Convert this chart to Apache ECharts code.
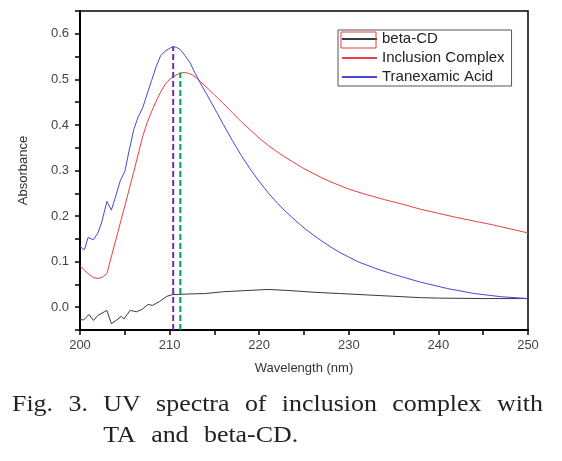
<!DOCTYPE html>
<html>
<head>
<meta charset="utf-8">
<script src="https://cdn.jsdelivr.net/npm/echarts@6/dist/echarts.min.js"></script>
<style>
html,body{margin:0;padding:0;background:#fff;}
#c{width:562px;height:461px;}
</style>
</head>
<body>
<div id="c"></div>
<script>
// beta-CD
var cdX = [200, 200.4, 201.0, 201.5, 202.0, 203.0, 203.5, 204.1, 204.6, 204.9, 205.6, 206.3, 206.9, 207.6, 208.1, 208.9, 209.7, 210.4, 211, 212, 214, 216, 218, 220, 221, 223, 226, 229, 232, 235, 238, 240, 245, 250];
var cdY = [-0.027, -0.028, -0.016, -0.029, -0.018, -0.007, -0.036, -0.028, -0.020, -0.026, -0.007, -0.010, -0.005, 0.006, 0.004, 0.013, 0.024, 0.028, 0.028, 0.029, 0.030, 0.034, 0.036, 0.038, 0.039, 0.037, 0.033, 0.030, 0.027, 0.024, 0.021, 0.020, 0.019, 0.019];
// Inclusion Complex
var icX = [200, 200.5, 201, 201.5, 202, 202.5, 203, 204, 205, 206, 207, 207.5, 208, 208.5, 209, 209.5, 210, 210.5, 211, 211.5, 212, 212.5, 213, 214, 215, 216, 217, 218, 219, 220, 221, 222, 223, 224, 225, 226, 227, 228, 229, 230, 232, 234, 236, 238, 240, 242, 244, 246, 248, 250];
var icY = [0.091, 0.081, 0.072, 0.065, 0.063, 0.066, 0.074, 0.148, 0.222, 0.297, 0.375, 0.405, 0.430, 0.452, 0.472, 0.489, 0.500, 0.507, 0.512, 0.515, 0.514, 0.510, 0.503, 0.485, 0.466, 0.447, 0.427, 0.407, 0.389, 0.371, 0.355, 0.341, 0.328, 0.316, 0.304, 0.294, 0.284, 0.275, 0.267, 0.259, 0.247, 0.236, 0.226, 0.215, 0.206, 0.197, 0.189, 0.181, 0.172, 0.163];
// Tranexamic Acid
var taX = [200, 200.5, 200.9, 201.5, 202.0, 202.4, 203.0, 203.5, 203.9, 204.5, 205.0, 205.5, 206.0, 206.5, 207.0, 207.5, 208.0, 208.5, 209.0, 209.5, 210.0, 210.4, 210.8, 211.2, 211.7, 212.3, 212.8, 213.4, 214, 215, 216, 217, 218, 219, 220, 221, 222, 223, 224, 225, 226, 227, 228, 229, 230, 231, 233, 235, 238, 241, 244, 247, 250];
var taY = [0.133, 0.126, 0.153, 0.148, 0.163, 0.185, 0.232, 0.213, 0.238, 0.278, 0.298, 0.345, 0.39, 0.418, 0.438, 0.468, 0.498, 0.528, 0.552, 0.562, 0.568, 0.572, 0.570, 0.565, 0.553, 0.536, 0.515, 0.493, 0.472, 0.437, 0.401, 0.366, 0.333, 0.303, 0.276, 0.251, 0.229, 0.209, 0.191, 0.174, 0.159, 0.145, 0.132, 0.120, 0.110, 0.100, 0.085, 0.072, 0.055, 0.041, 0.030, 0.023, 0.019];
// peak markers [wavelength, absorbance]
var peakTA = [210.4, 0.572];
var peakIC = [211.2, 0.515];
var seriesNames = ['beta-CD', 'Inclusion Complex', 'Tranexamic Acid'];
var xTicks = [200, 210, 220, 230, 240, 250];
var yMin = -0.05, yMax = 0.65;
var captionLine1 = ['Fig.', '3.', 'UV', 'spectra', 'of', 'inclusion', 'complex', 'with'];
var captionLine2 = ['TA', 'and', 'beta-CD.'];

function pairs(xs, ys){ return xs.map(function(x,i){ return [x, ys[i]]; }); }

var chart = echarts.init(document.getElementById('c'), null, {renderer:'canvas'});

// caption layout: justified first line, hanging indent second line
var capFont = '24px "Liberation Serif"';
var cv = document.createElement('canvas').getContext('2d');
cv.font = capFont;
var sx = 1.08;
function wOf(t){ return cv.measureText(t).width * sx; }
var L = 12, R = 543;
var tot = 0; captionLine1.forEach(function(w){ tot += wOf(w); });
var gap = (R - L - tot) / (captionLine1.length - 1);
var graphics = [];
var x = L, uvX = L;
captionLine1.forEach(function(w,i){
  if (i === 2) uvX = x;
  graphics.push({type:'text', x:x, y:393, scaleX:sx, style:{text:w, font:capFont, fill:'#222', textVerticalAlign:'top'}});
  x += wOf(w) + gap;
});
x = uvX;
captionLine2.forEach(function(w,i){
  graphics.push({type:'text', x:x, y:424, scaleX:sx, style:{text:w, font:capFont, fill:'#222', textVerticalAlign:'top'}});
  x += wOf(w) + gap;
});
graphics.push({type:'rect', shape:{x:341, y:32, width:35, height:16}, style:{fill:'none', stroke:'#e84040', lineWidth:1}, z:100});

chart.setOption({
  animation:false,
  backgroundColor:'#fff',
  grid:{left:80, right:34, top:11, bottom:131, show:true, borderColor:'#000', borderWidth:1.5, backgroundColor:'transparent'},
  legend:{
    data:seriesNames, orient:'vertical', left:338, top:30,
    itemWidth:35, itemHeight:14, itemGap:3,
    padding:[1,7,1,3], borderColor:'#555', borderWidth:1,
    itemStyle:{opacity:0},
    textStyle:{fontFamily:'"Liberation Sans", Arial', fontSize:15, lineHeight:16, color:'#222'}
  },
  xAxis:{
    type:'value', min:200, max:250, interval:5,
    name:'Wavelength (nm)', nameLocation:'middle', nameGap:32,
    nameTextStyle:{fontFamily:'"Liberation Sans", Arial', fontSize:13, color:'#333'},
    axisLine:{show:true, onZero:false, lineStyle:{color:'#000', width:2}},
    axisTick:{show:true, inside:false, length:5, lineStyle:{color:'#000', width:1.5}},
    axisLabel:{margin:9, fontFamily:'"Liberation Sans", Arial', fontSize:13, color:'#444',
      formatter:function(v){ return (Math.round(v) % 10 === 0) ? String(Math.round(v)) : ''; }},
    splitLine:{show:false}
  },
  yAxis:{
    type:'value', min:yMin, max:yMax, interval:0.05,
    name:'Absorbance', nameLocation:'middle', nameGap:50,
    nameTextStyle:{fontFamily:'"Liberation Sans", Arial', fontSize:13, color:'#333'},
    axisLine:{show:true, onZero:false, lineStyle:{color:'#000', width:2}},
    axisTick:{show:true, inside:false, length:5, lineStyle:{color:'#000', width:1.5}},
    axisLabel:{margin:11, fontFamily:'"Liberation Sans", Arial', fontSize:13, color:'#444',
      formatter:function(v){ var k = Math.round(v*20); return (Math.abs(k) % 2 === 0) ? (k/20).toFixed(1) : ''; }},
    splitLine:{show:false}
  },
  series:[
    {name:seriesNames[0], type:'line', data:pairs(cdX, cdY), symbol:'none', lineStyle:{color:'#3a3a3a', width:1}, itemStyle:{color:'#3a3a3a'}},
    {name:seriesNames[1], type:'line', data:pairs(icX, icY), symbol:'none', lineStyle:{color:'#e84040', width:1}, itemStyle:{color:'#e84040'}},
    {name:seriesNames[2], type:'line', data:pairs(taX, taY), symbol:'none', lineStyle:{color:'#4848d8', width:1}, itemStyle:{color:'#4848d8'}},
    {name:'peakTA', type:'line', data:[[peakTA[0], yMin],[peakTA[0], peakTA[1]]], symbol:'none', z:5,
      lineStyle:{color:'#7030a0', width:2, type:[6,3]}},
    {name:'peakIC', type:'line', data:[[peakIC[0], yMin],[peakIC[0], peakIC[1]]], symbol:'none', z:5,
      lineStyle:{color:'#00a050', width:2, type:[6,3]}}
  ],
  graphic:graphics
});
</script>
</body>
</html>
